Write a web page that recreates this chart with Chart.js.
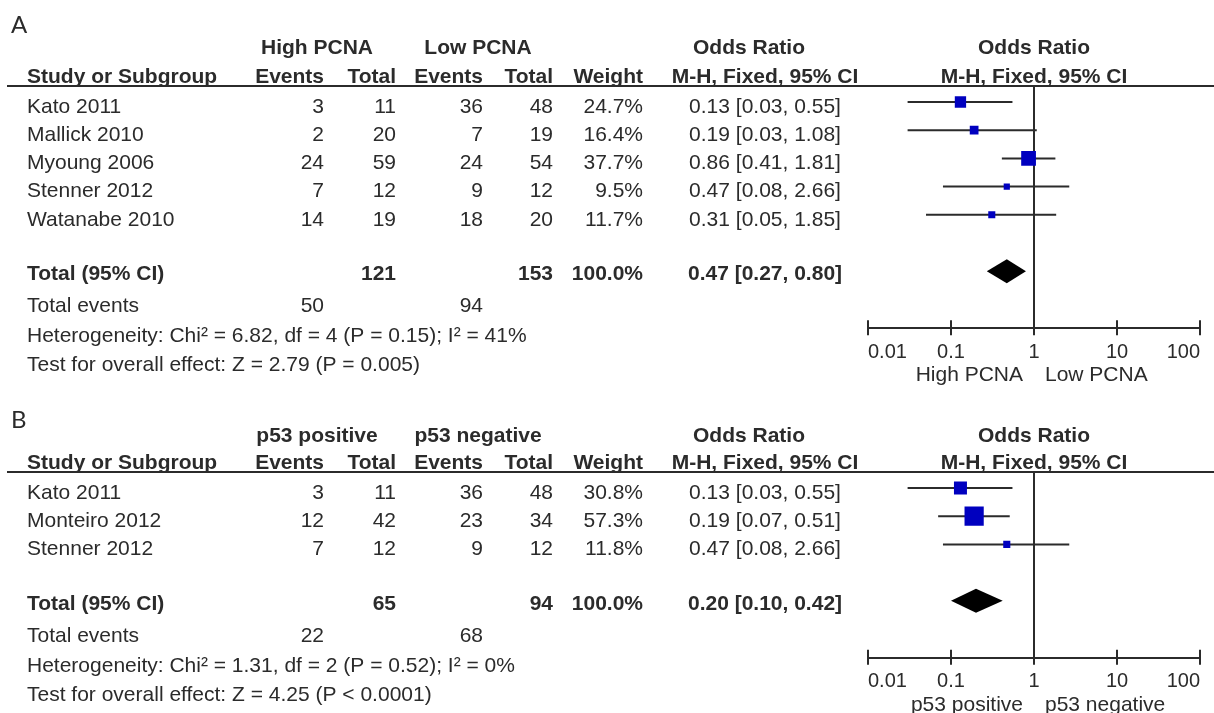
<!DOCTYPE html>
<html>
<head>
<meta charset="utf-8">
<script src="https://cdn.jsdelivr.net/npm/chart.js@4.4.1/dist/chart.umd.min.js"></script>
<style>
  body { margin: 0; background: #fff; width: 1214px; height: 713px; overflow: hidden; }
  .panel { position: absolute; left: 0; width: 1214px; }
</style>
</head>
<body>
<div class="panel" style="top:0;height:386px"><canvas id="chartA"></canvas></div>
<div class="panel" style="top:386px;height:327px"><canvas id="chartB"></canvas></div>
<script>
// ---- panel A : PCNA ----
const studiesA = ["Kato 2011", "Mallick 2010", "Myoung 2006", "Stenner 2012", "Watanabe 2010"];
const highEventsA = [3, 2, 24, 7, 14];
const highTotalA = [11, 20, 59, 12, 19];
const lowEventsA = [36, 7, 24, 9, 18];
const lowTotalA = [48, 19, 54, 12, 20];
const weightA = [24.7, 16.4, 37.7, 9.5, 11.7];
const orA = [0.13, 0.19, 0.86, 0.47, 0.31];
const lowerA = [0.03, 0.03, 0.41, 0.08, 0.05];
const upperA = [0.55, 1.08, 1.81, 2.66, 1.85];
const pooledA = [0.47, 0.27, 0.80];
const totalsA = [121, 153];
const totalEventsA = [50, 94];
const groupsA = ["High PCNA", "Low PCNA"];
const hetA = "Heterogeneity: Chi² = 6.82, df = 4 (P = 0.15); I² = 41%";
const testA = "Test for overall effect: Z = 2.79 (P = 0.005)";

// ---- panel B : p53 ----
const studiesB = ["Kato 2011", "Monteiro 2012", "Stenner 2012"];
const posEventsB = [3, 12, 7];
const posTotalB = [11, 42, 12];
const negEventsB = [36, 23, 9];
const negTotalB = [48, 34, 12];
const weightB = [30.8, 57.3, 11.8];
const orB = [0.13, 0.19, 0.47];
const lowerB = [0.03, 0.07, 0.08];
const upperB = [0.55, 0.51, 2.66];
const pooledB = [0.20, 0.10, 0.42];
const totalsB = [65, 94];
const totalEventsB = [22, 68];
const groupsB = ["p53 positive", "p53 negative"];
const hetB = "Heterogeneity: Chi² = 1.31, df = 2 (P = 0.52); I² = 0%";
const testB = "Test for overall effect: Z = 4.25 (P < 0.0001)";

const xTicks = [0.01, 0.1, 1, 10, 100];

const INK = '#2b2b2b';
const BLUE = '#0000bf';
const FONT = '"Liberation Sans", Arial, sans-serif';
const ROW0 = 102, ROWH = 28.2, RULE = 86;

Chart.defaults.font.family = FONT;
Chart.defaults.font.size = 20;
Chart.defaults.color = INK;

const fmtOR = (m, lo, hi) => m.toFixed(2) + " [" + lo.toFixed(2) + ", " + hi.toFixed(2) + "]";

function makePanel(canvasId, p) {
  const n = p.studies.length;
  const totalRow = n + 1;
  const axisY = ROW0 + ROWH * totalRow + 57;

  const datasets = [{
    data: p.or.map((v, i) => ({x: v, y: i})),
    pointStyle: 'rect',
    // square side grows with study weight
    pointRadius: p.weight.map(w => 1.5 * Math.pow(w, 0.63) / (2 * Math.SQRT1_2)),
    backgroundColor: BLUE,
    borderWidth: 0,
    order: 0
  }];
  p.lower.forEach((lo, i) => {
    datasets.push({
      data: [{x: lo, y: i}, {x: p.upper[i], y: i}],
      showLine: true,
      borderColor: INK,
      borderWidth: 2,
      pointRadius: 0,
      order: 1
    });
  });

  const forest = {
    id: 'forest',
    beforeDatasetsDraw(chart) {
      const {ctx, chartArea, scales: {x}} = chart;
      const x1 = x.getPixelForValue(1);
      ctx.save();
      ctx.strokeStyle = INK;
      ctx.lineWidth = 2;
      ctx.beginPath();
      ctx.moveTo(x1, chartArea.top);
      ctx.lineTo(x1, chartArea.bottom);
      ctx.stroke();
      ctx.restore();
    },
    afterDatasetsDraw(chart) {
      const {ctx, scales: {x, y}} = chart;
      const yc = y.getPixelForValue(totalRow);
      ctx.save();
      ctx.fillStyle = '#000';
      ctx.beginPath();
      ctx.moveTo(x.getPixelForValue(p.pooled[1]), yc);
      ctx.lineTo(x.getPixelForValue(p.pooled[0]), yc - 12);
      ctx.lineTo(x.getPixelForValue(p.pooled[2]), yc);
      ctx.lineTo(x.getPixelForValue(p.pooled[0]), yc + 12);
      ctx.closePath();
      ctx.fill();
      ctx.restore();
    },
    afterDraw(chart) {
      const {ctx, chartArea, scales: {x, y}} = chart;
      const t = (s, px, py, align, bold) => {
        ctx.font = (bold ? 'bold ' : '') + '21px ' + FONT;
        ctx.textAlign = align;
        ctx.fillText(s, px, py);
      };
      ctx.save();
      ctx.fillStyle = INK;
      ctx.textBaseline = 'middle';

      ctx.font = '24px Lato, "Open Sans", sans-serif';
      ctx.textAlign = 'left';
      ctx.fillText(p.label, 11, p.labelY);

      const h1 = RULE - p.h1, h2 = RULE - 9;
      t(p.groups[0], 317, h1, 'center', true);
      t(p.groups[1], 478, h1, 'center', true);
      t("Odds Ratio", 749, h1, 'center', true);
      t("Odds Ratio", x.getPixelForValue(1), h1, 'center', true);
      t("Study or Subgroup", 27, h2, 'left', true);
      t("Events", 324, h2, 'right', true);
      t("Total", 396, h2, 'right', true);
      t("Events", 483, h2, 'right', true);
      t("Total", 553, h2, 'right', true);
      t("Weight", 643, h2, 'right', true);
      t("M-H, Fixed, 95% CI", 765, h2, 'center', true);
      t("M-H, Fixed, 95% CI", x.getPixelForValue(1), h2, 'center', true);

      p.studies.forEach((s, i) => {
        const py = y.getPixelForValue(i) + 5;
        t(s, 27, py, 'left');
        t(String(p.ev1[i]), 324, py, 'right');
        t(String(p.tot1[i]), 396, py, 'right');
        t(String(p.ev2[i]), 483, py, 'right');
        t(String(p.tot2[i]), 553, py, 'right');
        t(p.weight[i].toFixed(1) + "%", 643, py, 'right');
        t(fmtOR(p.or[i], p.lower[i], p.upper[i]), 765, py, 'center');
      });

      const ty = y.getPixelForValue(totalRow);
      t("Total (95% CI)", 27, ty + 3, 'left', true);
      t(String(p.totals[0]), 396, ty + 3, 'right', true);
      t(String(p.totals[1]), 553, ty + 3, 'right', true);
      t("100.0%", 643, ty + 3, 'right', true);
      t(fmtOR(p.pooled[0], p.pooled[1], p.pooled[2]), 765, ty + 3, 'center', true);
      t("Total events", 27, ty + 35, 'left');
      t(String(p.events[0]), 324, ty + 35, 'right');
      t(String(p.events[1]), 483, ty + 35, 'right');
      t(p.het, 27, ty + 65, 'left');
      t(p.test, 27, ty + 94, 'left');

      const x1 = x.getPixelForValue(1);
      t(p.groups[0], x1 - 11, chartArea.bottom + 47, 'right');
      t(p.groups[1], x1 + 11, chartArea.bottom + 47, 'left');

      // header rule and tick marks crossing the axis
      ctx.strokeStyle = INK;
      ctx.lineWidth = 2;
      ctx.beginPath();
      ctx.moveTo(7, chartArea.top);
      ctx.lineTo(1214, chartArea.top);
      xTicks.forEach(v => {
        const px = x.getPixelForValue(v);
        ctx.moveTo(px, chartArea.bottom - 8);
        ctx.lineTo(px, chartArea.bottom + 7);
      });
      ctx.stroke();
      ctx.restore();
    }
  };

  return new Chart(document.getElementById(canvasId), {
    type: 'scatter',
    data: {datasets},
    options: {
      responsive: true,
      maintainAspectRatio: false,
      animation: false,
      layout: {padding: {left: 868, right: 14, top: RULE, bottom: p.height - axisY - 40}},
      plugins: {legend: {display: false}, tooltip: {enabled: false}},
      scales: {
        x: {
          type: 'logarithmic',
          min: 0.01,
          max: 100,
          afterBuildTicks: s => { s.ticks = xTicks.map(v => ({value: v})); },
          afterFit: s => { s.height = 40; s.paddingLeft = 0; s.paddingRight = 0; },
          ticks: {callback: v => String(v), align: 'inner', padding: 4, maxRotation: 0, autoSkip: false, color: INK},
          grid: {display: false, drawTicks: true, tickLength: 8},
          border: {color: INK, width: 2}
        },
        y: {
          type: 'linear',
          reverse: true,
          min: (RULE - ROW0) / ROWH,
          max: totalRow + 57 / ROWH,
          display: false
        }
      }
    },
    plugins: [forest]
  });
}

makePanel('chartA', {
  label: 'A', labelY: 25, h1: 38, height: 386,
  studies: studiesA, ev1: highEventsA, tot1: highTotalA, ev2: lowEventsA, tot2: lowTotalA,
  weight: weightA, or: orA, lower: lowerA, upper: upperA, pooled: pooledA,
  totals: totalsA, events: totalEventsA, groups: groupsA, het: hetA, test: testA
});

makePanel('chartB', {
  label: 'B', labelY: 34, h1: 36, height: 327,
  studies: studiesB, ev1: posEventsB, tot1: posTotalB, ev2: negEventsB, tot2: negTotalB,
  weight: weightB, or: orB, lower: lowerB, upper: upperB, pooled: pooledB,
  totals: totalsB, events: totalEventsB, groups: groupsB, het: hetB, test: testB
});
</script>
</body>
</html>
